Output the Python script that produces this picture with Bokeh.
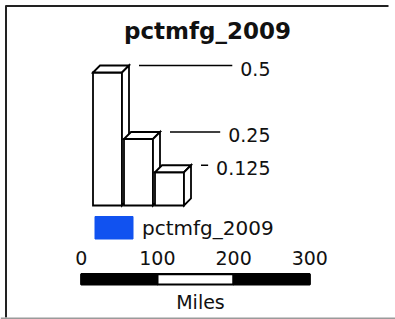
from bokeh.plotting import figure
from bokeh.models import Range1d
from bokeh.embed import file_html
from bokeh.resources import INLINE
from bokeh.core.properties import value

# ---- data ----
title_text = "pctmfg_2009"
class_values = [0.5, 0.25, 0.125]
class_labels = ["0.5", "0.25", "0.125"]
legend_label = "pctmfg_2009"
legend_color = "#1152F0"
scale_ticks = [0, 100, 200, 300]
scale_tick_labels = ["0", "100", "200", "300"]
scale_colors = ["black", "white", "black"]
scale_unit = "Miles"

# ---- figure: 1 data unit = 1 screen pixel, y downwards ----
W, H = 395, 319
p = figure(width=W, height=H, x_range=Range1d(0, W), y_range=Range1d(H, 0),
           x_axis_type=None, y_axis_type=None, output_backend="svg",
           toolbar_location=None, min_border=0)
p.grid.visible = False
p.outline_line_color = None
p.background_fill_color = "white"
p.border_fill_color = "white"

FONT = value("DejaVu Sans")
TY = -8  # svg text baseline correction

# frame
p.segment(x0=[5, 5.5], y0=[5.5, 5], x1=[388, 5.5], y1=[5.5, 317], line_color="#222222", line_width=2)
p.segment(x0=[0], y0=[318], x1=[395], y1=[318], line_color="#9a9a9a", line_width=2)

# title
p.text(x=[207], y=[38.5], text=[title_text], text_font=FONT, text_font_style="bold",
       text_font_size="23px", text_align="center", text_baseline="alphabetic",
       text_color="#111111", y_offset=TY)

# ---- 3D bars ----
px_per_unit = 266.0
bar_bottom = 205.0
bar_x0 = 92.5
bar_step = 31.0
bar_w = 29.0
ddx, ddy = 7.0, -7.0
label_right = 270.0
label_size = 19
char_w = {c: 0.636 for c in "0123456789"}
char_w["."] = 0.318

for i, (v, lab) in enumerate(zip(class_values, class_labels)):
    L = bar_x0 + i * bar_step
    R = L + bar_w
    T = bar_bottom - v * px_per_unit
    B = bar_bottom
    xs = [[L, R, R, L],
          [L, L + ddx, R + ddx, R],
          [R, R + ddx, R + ddx, R]]
    ys = [[T, T, B, B],
          [T, T + ddy, T + ddy, T],
          [T, T + ddy, B + ddy, B]]
    p.patches(xs=xs, ys=ys, fill_color="white", line_color="black", line_width=1.8,
              line_join="miter")
    # leader line + label
    ly = T + ddy
    tw = sum(char_w.get(c, 0.6) for c in lab) * label_size
    x_start = R + ddx + 10
    x_end = label_right - tw - 8
    if x_end > x_start:
        p.segment(x0=[x_start], y0=[ly], x1=[x_end], y1=[ly], line_color="black", line_width=1.5)
    p.text(x=[label_right], y=[ly + 11], text=[lab], text_font=FONT,
           text_font_size=f"{label_size}px", text_align="right", text_baseline="alphabetic",
           text_color="#111111", y_offset=TY)

# ---- legend patch ----
p.quad(left=[94.5], right=[132.5], top=[216], bottom=[238.5], fill_color=legend_color,
       line_color=legend_color)
p.text(x=[141.5], y=[235], text=[legend_label], text_font=FONT, text_font_size="20px",
       text_align="left", text_baseline="alphabetic", text_color="#111111", y_offset=TY)

# ---- scale bar ----
sx0, sx1 = 80.7, 309.3
spx = (sx1 - sx0) / (scale_ticks[-1] - scale_ticks[0])
def sx(m):
    return sx0 + (m - scale_ticks[0]) * spx

p.quad(left=[sx(scale_ticks[i]) for i in range(len(scale_colors))],
       right=[sx(scale_ticks[i + 1]) for i in range(len(scale_colors))],
       top=[273.7] * len(scale_colors), bottom=[284] * len(scale_colors),
       fill_color=scale_colors, line_color="black", line_width=2.2)
p.text(x=[sx(t) for t in scale_ticks], y=[265] * len(scale_ticks), text=scale_tick_labels,
       text_font=FONT, text_font_size="19px", text_align="center", text_baseline="alphabetic",
       text_color="#111111", y_offset=TY)
p.text(x=[sx((scale_ticks[0] + scale_ticks[-1]) / 2) + 5], y=[309.5], text=[scale_unit],
       text_font=FONT, text_font_size="19px", text_align="center", text_baseline="alphabetic",
       text_color="#111111", y_offset=TY)

open("out.html", "w").write(file_html(p, INLINE))
